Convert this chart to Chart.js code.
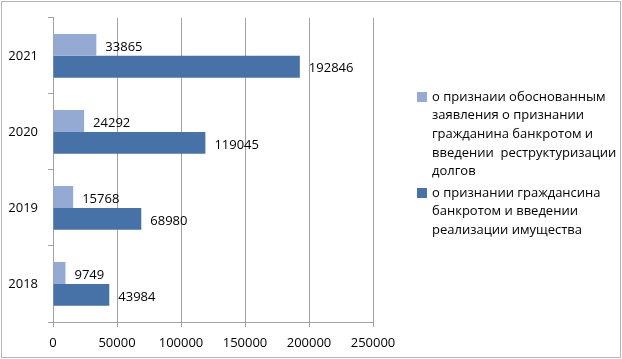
<!DOCTYPE html>
<html>
<head>
<meta charset="utf-8">
<script src="https://cdn.jsdelivr.net/npm/chart.js@4"></script>
<style>
html,body{margin:0;padding:0;background:#fff;}
#wrap{width:622px;height:359px;position:relative;}
</style>
</head>
<body>
<div id="wrap"><canvas id="c" width="622" height="359"></canvas></div>
<script>
const categories = ['2021', '2020', '2019', '2018'];
const restructuring = [33865, 24292, 15768, 9749];
const realization = [192846, 119045, 68980, 43984];
const xTicks = [0, 50000, 100000, 150000, 200000, 250000];
const legendLines1 = ['о признаии обоснованным', 'заявления о признании', 'гражданина банкротом и', 'введении  реструктуризации', 'долгов'];
const legendLines2 = ['о признании граждансина', 'банкротом и введении', 'реализации имущества'];

const FONT = '"Open Sans", sans-serif';
const LIGHT = '#95aad3';
const DARK = '#4672a8';
const GRID = '#a3a3a3';

const decorPlugin = {
  id: 'decor',
  afterDatasetsDraw(chart) {
    const ctx = chart.ctx;
    ctx.save();
    ctx.font = '13px ' + FONT;
    ctx.fillStyle = '#000';
    ctx.textBaseline = 'middle';
    ctx.textAlign = 'left';
    chart.data.datasets.forEach((ds, di) => {
      const meta = chart.getDatasetMeta(di);
      meta.data.forEach((el, i) => {
        ctx.fillText(String(ds.data[i]), el.x + 9, el.y + 2);
      });
    });
    ctx.restore();
  },
  afterDraw(chart) {
    const ctx = chart.ctx;
    ctx.save();
    // outer border
    ctx.strokeStyle = '#b4b4b4';
    ctx.lineWidth = 1;
    ctx.strokeRect(1.5, 1.5, 619, 356);
    // legend
    ctx.font = '13px ' + FONT;
    ctx.fillStyle = '#000';
    ctx.textBaseline = 'middle';
    const entries = [
      {color: LIGHT, lines: legendLines1, y: 97},
      {color: DARK, lines: legendLines2, y: 193}
    ];
    entries.forEach(e => {
      ctx.fillStyle = e.color;
      ctx.fillRect(417, e.y - 5, 10, 10);
      ctx.fillStyle = '#000';
      e.lines.forEach((t, k) => {
        ctx.fillText(t, 432, e.y + k * 18.6);
      });
    });
    ctx.restore();
  }
};

new Chart(document.getElementById('c'), {
  type: 'bar',
  data: {
    labels: categories,
    datasets: [
      {label: legendLines1.join(' '), data: restructuring, backgroundColor: LIGHT, barPercentage: 1, categoryPercentage: 0.575},
      {label: legendLines2.join(' '), data: realization, backgroundColor: DARK, barPercentage: 1, categoryPercentage: 0.575}
    ]
  },
  options: {
    indexAxis: 'y',
    responsive: false,
    animation: false,
    layout: {padding: {top: 17, right: 249, left: 0, bottom: 0}},
    plugins: {legend: {display: false}, tooltip: {enabled: false}},
    scales: {
      x: {
        min: 0, max: 250000,
        afterBuildTicks(scale) { scale.ticks = xTicks.map(v => ({value: v})); },
        afterFit(scale) { scale.height = 37; },
        grid: {color: GRID, tickLength: 5, drawOnChartArea: true},
        border: {color: GRID},
        ticks: {font: {family: FONT, size: 13}, color: '#000', padding: 8, maxRotation: 0, callback: v => String(v)}
      },
      y: {
        afterFit(scale) { scale.width = 53; },
        grid: {color: GRID, tickLength: 5, drawOnChartArea: false, offset: true},
        border: {color: GRID},
        ticks: {font: {family: FONT, size: 13}, color: '#000', padding: 10}
      }
    }
  },
  plugins: [decorPlugin]
});
</script>
</body>
</html>
